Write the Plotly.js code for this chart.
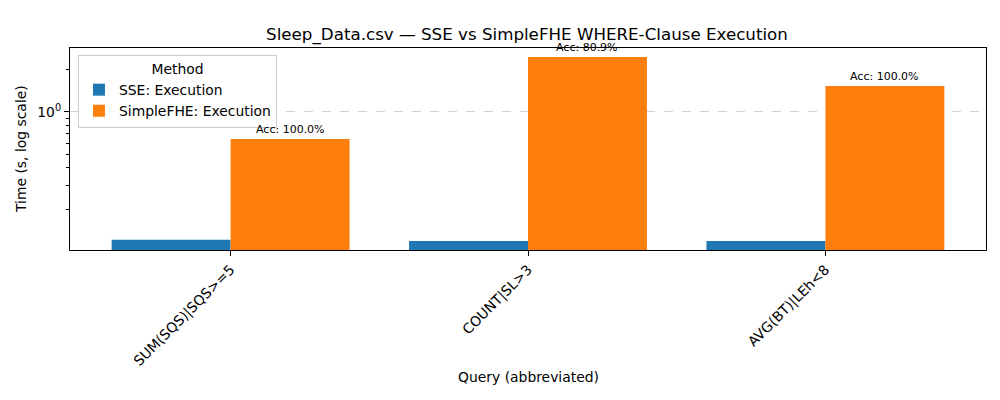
<!DOCTYPE html>
<html><head><meta charset="utf-8">
<script src="https://cdn.plot.ly/plotly-3.0.1.min.js"></script>
<style>html,body{margin:0;padding:0;background:#fff}</style>
</head><body><div id="chart" style="width:1000px;height:400px"></div>
<script>
const categories = ["SUM(SQS)|SQS>=5", "COUNT|SL>3", "AVG(BT)|LEh<8"];
const sseExec = [0.122, 0.120, 0.120];
const fheExec = [0.641, 2.47, 1.53];
const accLabels = ["Acc: 100.0%", "Acc: 80.9%", "Acc: 100.0%"];
const yTickVals = [1];
const yTickText = ["10<sup>0</sup>"];

const F = "DejaVu Sans, sans-serif";
const idx = categories.map((c, i) => i);

const traces = [
  {type: "bar", name: "SSE: Execution", x: idx, y: sseExec, marker: {color: "#1f77b4", line: {width: 0}}},
  {type: "bar", name: "SimpleFHE: Execution", x: idx, y: fheExec, marker: {color: "#ff7f0e", line: {width: 0}}}
];

const annotations = fheExec.map((v, i) => ({
  x: i + 0.2, y: Math.log10(v), xref: "x", yref: "y", text: accLabels[i],
  showarrow: false, yanchor: "bottom", yshift: 1, font: {family: F, size: 11, color: "#000"}
}));
annotations.push({x: 0.5, y: -0.629, xref: "paper", yref: "paper", xanchor: "center", yanchor: "middle",
  text: "Query (abbreviated)", showarrow: false, font: {family: F, size: 13.9, color: "#000"}});
annotations.push({x: -0.0535, y: 0.5, xref: "paper", yref: "paper", xanchor: "center", yanchor: "middle",
  text: "Time (s, log scale)", textangle: -90, showarrow: false, font: {family: F, size: 13.9, color: "#000"}});

const layout = {
  width: 1000, height: 400,
  margin: {l: 70, r: 14, t: 48, b: 150},
  paper_bgcolor: "#fff", plot_bgcolor: "#fff",
  font: {family: F, size: 13.9, color: "#000"},
  title: {text: "Sleep_Data.csv — SSE vs SimpleFHE WHERE-Clause Execution", x: 0.527, xanchor: "center",
          y: 1 - 34 / 400, yref: "container", yanchor: "middle", font: {family: F, size: 16.7, color: "#000"}},
  barmode: "group", bargap: 0.2, bargroupgap: 0,
  xaxis: {
    range: [-0.54, 2.54], tickmode: "array", tickvals: idx, ticktext: categories, tickangle: -45,
    ticks: "outside", ticklen: 5, tickcolor: "#000", showline: true, linecolor: "#000", linewidth: 1.1,
    mirror: true, showgrid: false, zeroline: false, tickfont: {family: F, size: 13.9, color: "#000"}
  },
  yaxis: {
    type: "log", range: [-0.986, 0.457], tickmode: "array", tickvals: yTickVals, ticktext: yTickText,
    ticks: "outside", ticklen: 5, tickcolor: "#000", showline: true, linecolor: "#000", linewidth: 1.1,
    mirror: true, showgrid: true, gridcolor: "#c8c8c8", griddash: "dash", gridwidth: 0.8, zeroline: false,
    tickfont: {family: F, size: 13.9, color: "#000"},
    minor: {ticks: "outside", ticklen: 3, tickcolor: "#000", dtick: "D1", showgrid: false}
  },
  legend: {
    x: 0.0087, y: 0.965, xanchor: "left", yanchor: "top",
    bgcolor: "rgba(255,255,255,0.8)", bordercolor: "#cccccc", borderwidth: 1,
    title: {text: "Method", side: "top center", font: {family: F, size: 13.9, color: "#000"}},
    font: {family: F, size: 13.9, color: "#000"}, tracegroupgap: 0
  },
  annotations: annotations
};

Plotly.newPlot("chart", traces, layout, {displayModeBar: false, staticPlot: true});
</script></body></html>
